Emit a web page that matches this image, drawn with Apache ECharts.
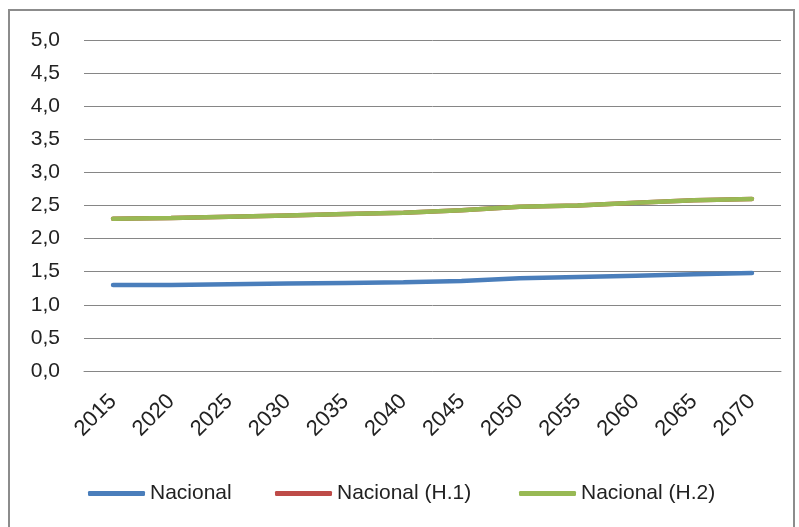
<!DOCTYPE html>
<html>
<head>
<meta charset="utf-8">
<script src="https://cdn.jsdelivr.net/npm/echarts@6/dist/echarts.min.js"></script>
<style>
  html, body { margin: 0; padding: 0; background: #fff; }
  #frame {
    position: absolute; left: 8px; top: 9px; width: 787px; height: 520px;
    border: 2px solid #8c8c8c; box-sizing: border-box;
  }
  #myChart { position: absolute; left: 0; top: 0; width: 799px; height: 527px; }
</style>
</head>
<body>
<div id="frame"></div>
<div id="myChart"></div>
<script>
var years = ["2015", "2020", "2025", "2030", "2035", "2040", "2045", "2050", "2055", "2060", "2065", "2070"];
var nacional = [1.30, 1.30, 1.31, 1.32, 1.33, 1.34, 1.36, 1.40, 1.42, 1.44, 1.46, 1.48];
var nacionalH1 = [2.30, 2.31, 2.33, 2.35, 2.37, 2.39, 2.43, 2.48, 2.50, 2.54, 2.58, 2.60];
var nacionalH2 = [2.30, 2.31, 2.33, 2.35, 2.37, 2.39, 2.43, 2.48, 2.50, 2.54, 2.58, 2.60];

var font = "'Liberation Sans', sans-serif";
var txt = { fontFamily: font, fontSize: 21, color: "#222" };

// one legend per item so each sits where the original puts it
function legendAt(name, left) {
  return {
    data: [{ name: name, icon: "roundRect" }],
    left: left,
    top: 478,
    itemWidth: 57,
    itemHeight: 5,
    textStyle: txt
  };
}

var myChart = echarts.init(document.getElementById("myChart"));
myChart.setOption({
  animation: false,
  grid: { left: 84, right: 18, top: 40, bottom: 156 },
  legend: [
    legendAt("Nacional", 83),
    legendAt("Nacional (H.1)", 270),
    legendAt("Nacional (H.2)", 514)
  ],
  xAxis: {
    type: "category",
    data: years,
    boundaryGap: true,
    axisLine: { lineStyle: { color: "#868686", width: 1 } },
    axisTick: { show: false },
    axisLabel: {
      interval: 0,
      rotate: 45,
      margin: 27,
      fontFamily: font,
      fontSize: 22,
      color: "#222"
    }
  },
  yAxis: {
    type: "value",
    min: 0,
    max: 5,
    interval: 0.5,
    axisLine: { show: false },
    axisTick: { show: false },
    splitLine: { lineStyle: { color: "#868686", width: 1 } },
    axisLabel: {
      margin: 24,
      fontFamily: font,
      fontSize: 21,
      color: "#222",
      formatter: function (v) { return v.toFixed(1).replace(".", ","); }
    }
  },
  series: [
    {
      name: "Nacional",
      type: "line",
      data: nacional,
      symbol: "none",
      lineStyle: { width: 4.5, color: "#4a7ebb", cap: "round" },
      itemStyle: { color: "#4a7ebb" }
    },
    {
      name: "Nacional (H.1)",
      type: "line",
      data: nacionalH1,
      symbol: "none",
      lineStyle: { width: 4.5, color: "#be4b48", cap: "round" },
      itemStyle: { color: "#be4b48" }
    },
    {
      name: "Nacional (H.2)",
      type: "line",
      data: nacionalH2,
      symbol: "none",
      lineStyle: { width: 4.5, color: "#98b954", cap: "round" },
      itemStyle: { color: "#98b954" }
    }
  ]
});
</script>
</body>
</html>
